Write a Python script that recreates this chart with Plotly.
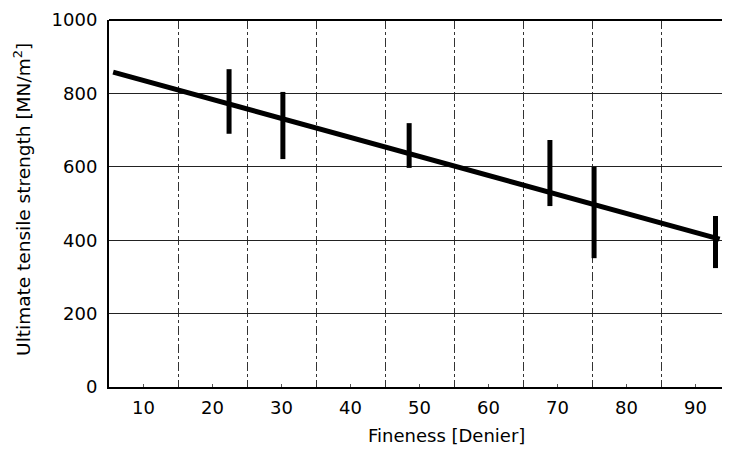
import plotly.graph_objects as go

# Data
fineness = [22.4, 30.2, 48.5, 68.9, 75.3, 92.9]
strength_low = [690, 621, 597, 493, 351, 324]
strength_high = [866, 804, 719, 673, 600, 466]

fit_x = [5.6, 93.5]
fit_y = [858, 403]

x_ticks = [10, 20, 30, 40, 50, 60, 70, 80, 90]
x_grid = [15, 25, 35, 45, 55, 65, 75, 85]
y_ticks = [0, 200, 400, 600, 800, 1000]

FONT = "DejaVu Sans"

# build error-bar segments from the arrays
seg_x, seg_y = [], []
for xv, lo, hi in zip(fineness, strength_low, strength_high):
    seg_x += [xv, xv, None]
    seg_y += [lo, hi, None]

fig = go.Figure()
fig.add_trace(go.Scatter(x=fit_x, y=fit_y, mode="lines",
                         line=dict(color="black", width=5), showlegend=False))
fig.add_trace(go.Scatter(x=seg_x, y=seg_y, mode="lines",
                         line=dict(color="black", width=5), showlegend=False))

# page body has an 8px margin, so the figure is sized to fit the 730x452 window
fig.update_layout(
    width=722, height=444,
    margin=dict(l=101, r=0, t=12, b=65),
    paper_bgcolor="white", plot_bgcolor="white",
    font=dict(family=FONT, color="black", size=18),
    showlegend=False,
)

fig.update_xaxes(
    range=[5, 95], tickvals=x_ticks, ticktext=[str(v) for v in x_ticks],
    showgrid=False, zeroline=False,
    showline=True, linecolor="black", linewidth=2,
    ticks="inside", ticklen=3, tickcolor="#555", tickwidth=1,
    ticklabelstandoff=3,
    tickfont=dict(family=FONT, size=18),
    minor=dict(tickvals=x_grid, showgrid=True, griddash="dashdot",
               gridcolor="#333", gridwidth=1, ticks=""),
)
fig.update_yaxes(
    range=[0, 1000], tickvals=y_ticks, ticktext=[str(v) for v in y_ticks],
    showgrid=True, gridcolor="#222", gridwidth=1.2, zeroline=False,
    showline=True, linecolor="black", linewidth=2,
    ticks="", ticklabelstandoff=6,
    tickfont=dict(family=FONT, size=18),
)

# top border
fig.add_shape(type="line", xref="paper", yref="paper", x0=0, x1=1, y0=1, y1=1,
              line=dict(color="black", width=2))

fig.add_annotation(text="Fineness [Denier]", xref="paper", yref="paper",
                   x=0.543, y=-0.1335, xanchor="center", yanchor="middle",
                   showarrow=False, font=dict(family=FONT, size=18))
fig.add_annotation(text="Ultimate tensile strength [MN/m<sup>2</sup>]",
                   xref="paper", yref="paper", x=-0.140, y=0.51,
                   xanchor="center", yanchor="middle", textangle=-90,
                   showarrow=False, font=dict(family=FONT, size=18.5))

fig.write_html("out.html")
